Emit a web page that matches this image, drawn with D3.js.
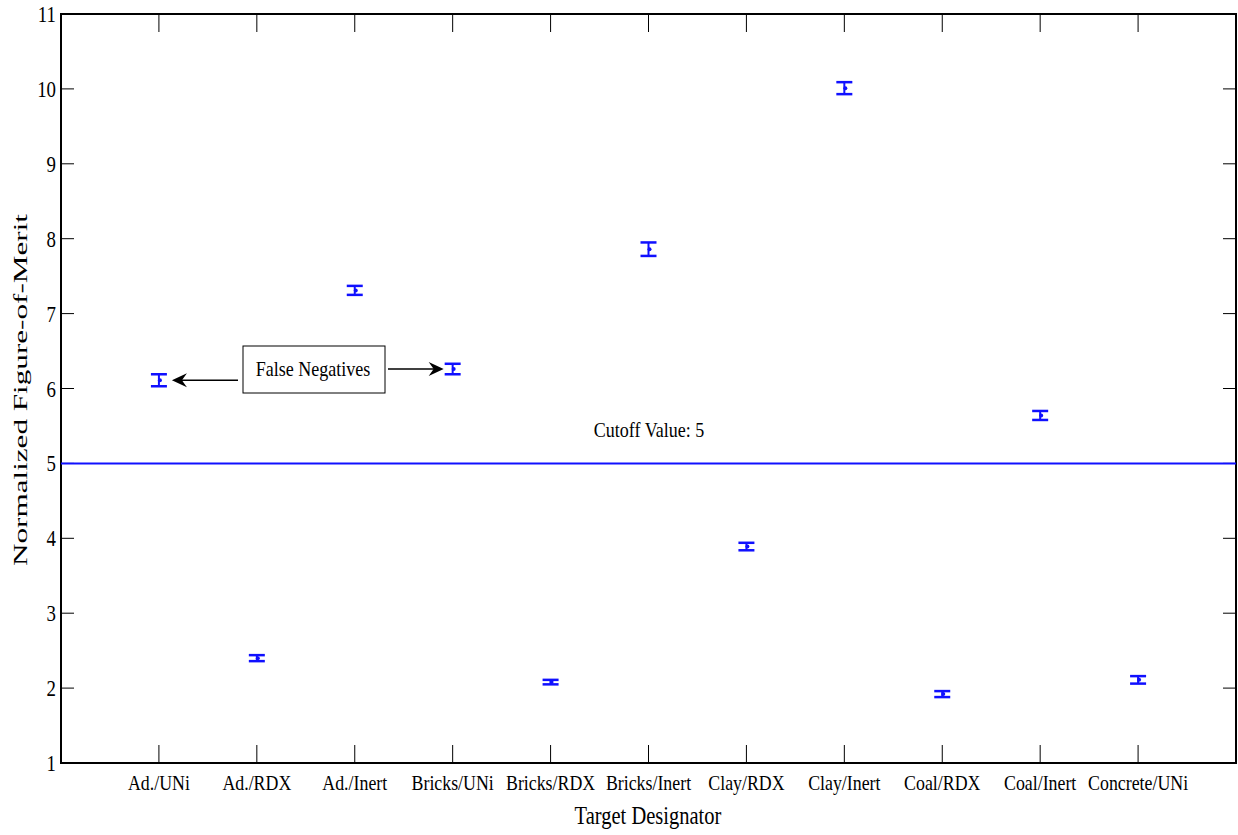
<!DOCTYPE html>
<html lang="en">
<head>
<meta charset="utf-8">
<script src="https://cdn.jsdelivr.net/npm/d3@7"></script>
<style>
  body { margin: 0; background: #fff; }
  text { font-family: "Liberation Serif", "Times New Roman", serif; fill: #000; }
</style>
</head>
<body>
<div id="chart"></div>
<script>
// data
var categories = ["Ad./UNi", "Ad./RDX", "Ad./Inert", "Bricks/UNi", "Bricks/RDX", "Bricks/Inert",
                  "Clay/RDX", "Clay/Inert", "Coal/RDX", "Coal/Inert", "Concrete/UNi"];
var means  = [6.11, 2.40, 7.31, 6.26, 2.08, 7.86, 3.89, 10.01, 1.92, 5.64, 2.11];
var errors = [0.08, 0.04, 0.06, 0.07, 0.03, 0.09, 0.05, 0.08, 0.04, 0.06, 0.05];
var yTicks = [1, 2, 3, 4, 5, 6, 7, 8, 9, 10, 11];
var cutoff = 5;

var w = 1238, h = 835;
// plot box (don't call it "top", window.top is read-only)
var plotL = 61, plotR = 1236, plotT = 14, plotB = 763;
var sx = 0.82; // text looks squeezed horizontally

var svg = d3.select("#chart").append("svg")
  .attr("width", w).attr("height", h);

var x = d3.scaleLinear().domain([0, categories.length + 1]).range([plotL, plotR]);
var y = d3.scaleLinear().domain([1, 11]).range([plotB, plotT]);

// frame
svg.append("rect")
  .attr("x", plotL).attr("y", plotT)
  .attr("width", plotR - plotL).attr("height", plotB - plotT)
  .attr("fill", "none").attr("stroke", "#000").attr("stroke-width", 2);

// x ticks (inside, top and bottom)
categories.forEach(function (c, i) {
  var xx = x(i + 1);
  svg.append("line").attr("x1", xx).attr("x2", xx).attr("y1", plotB).attr("y2", plotB - 18)
    .attr("stroke", "#000").attr("stroke-width", 1);
  svg.append("line").attr("x1", xx).attr("x2", xx).attr("y1", plotT).attr("y2", plotT + 18)
    .attr("stroke", "#000").attr("stroke-width", 1);
  svg.append("text")
    .attr("transform", "translate(" + xx + "," + 790 + ") scale(" + 0.85 + ",1)")
    .attr("text-anchor", "middle")
    .style("font-size", "21px")
    .text(c);
});

// y ticks (inside, left and right)
yTicks.forEach(function (t) {
  var yy = y(t);
  svg.append("line").attr("x1", plotL).attr("x2", plotL + 13).attr("y1", yy).attr("y2", yy)
    .attr("stroke", "#000").attr("stroke-width", 1);
  svg.append("line").attr("x1", plotR).attr("x2", plotR - 13).attr("y1", yy).attr("y2", yy)
    .attr("stroke", "#000").attr("stroke-width", 1);
  svg.append("text")
    .attr("transform", "translate(" + 56 + "," + (yy + 8) + ") scale(" + sx + ",1)")
    .attr("text-anchor", "end")
    .style("font-size", "23px")
    .text(t);
});

// axis titles
svg.append("text")
  .attr("transform", "translate(" + 648 + "," + 824 + ") scale(" + sx + ",1)")
  .attr("text-anchor", "middle")
  .style("font-size", "25px")
  .text("Target Designator");

svg.append("text")
  .attr("transform", "translate(" + 27 + "," + 390 + ") scale(" + sx + ",1) rotate(-90)")
  .attr("text-anchor", "middle")
  .attr("textLength", 352)
  .attr("lengthAdjust", "spacingAndGlyphs")
  .style("font-size", "22px")
  .text("Normalized Figure-of-Merit");

// cutoff line
var blue = "#1010ff";
svg.append("line")
  .attr("x1", plotL).attr("x2", plotR)
  .attr("y1", y(cutoff)).attr("y2", y(cutoff))
  .attr("stroke", blue).attr("stroke-width", 2);

svg.append("text")
  .attr("transform", "translate(" + 649 + "," + 437 + ") scale(" + sx + ",1)")
  .attr("text-anchor", "middle")
  .style("font-size", "22px")
  .text("Cutoff Value: " + cutoff);

// error bars
var cap = 8;
var g = svg.append("g").attr("stroke", blue);
means.forEach(function (m, i) {
  var xx = x(i + 1);
  g.append("line").attr("x1", xx).attr("x2", xx)
    .attr("y1", y(m - errors[i])).attr("y2", y(m + errors[i])).attr("stroke-width", 2);
  g.append("line").attr("x1", xx - cap).attr("x2", xx + cap)
    .attr("y1", y(m - errors[i])).attr("y2", y(m - errors[i])).attr("stroke-width", 2.5);
  g.append("line").attr("x1", xx - cap).attr("x2", xx + cap)
    .attr("y1", y(m + errors[i])).attr("y2", y(m + errors[i])).attr("stroke-width", 2.5);
  svg.append("circle").attr("cx", xx + 1).attr("cy", y(m)).attr("r", 2).attr("fill", blue);
});

// "False Negatives" annotation
svg.append("rect")
  .attr("x", 243).attr("y", 346).attr("width", 142).attr("height", 47)
  .attr("fill", "#fff").attr("stroke", "#000").attr("stroke-width", 1);
svg.append("text")
  .attr("transform", "translate(" + 313 + "," + 376 + ") scale(" + sx + ",1)")
  .attr("text-anchor", "middle")
  .style("font-size", "22px")
  .text("False Negatives");

function arrow(x1, x2, yy) {
  var dir = x2 > x1 ? 1 : -1;
  svg.append("line").attr("x1", x1).attr("x2", x2 - dir * 8).attr("y1", yy).attr("y2", yy)
    .attr("stroke", "#000").attr("stroke-width", 1.5);
  svg.append("path")
    .attr("d", "M" + x2 + "," + yy +
               " L" + (x2 - dir * 15) + "," + (yy - 7) +
               " L" + (x2 - dir * 10) + "," + yy +
               " L" + (x2 - dir * 15) + "," + (yy + 7) + " Z")
    .attr("fill", "#000");
}
arrow(238, x(1) + 13, y(means[0]));
arrow(388, x(4) - 9, y(means[3]));
</script>
</body>
</html>
